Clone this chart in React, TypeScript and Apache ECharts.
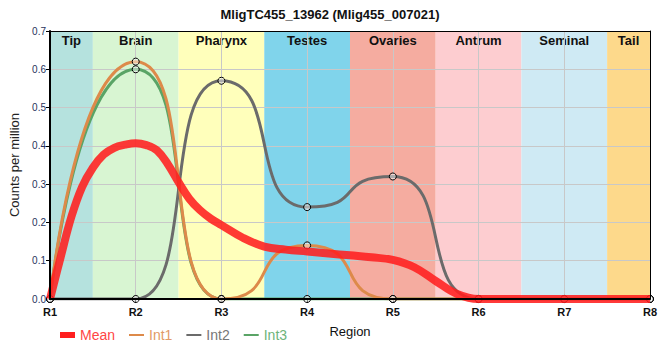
import React, { useEffect, useRef } from 'react';
import * as echarts from 'echarts';

const titleText = 'MligTC455_13962 (Mlig455_007021)';
const xLabels = ['R1', 'R2', 'R3', 'R4', 'R5', 'R6', 'R7', 'R8'];
const xPositions = [1, 2, 3, 4, 5, 6, 7, 8];
const int1 = [0, 0.62, 0, 0.14, 0, 0, 0, 0];
const int2 = [0, 0, 0.57, 0.24, 0.32, 0, 0, 0];
const int3 = [0, 0.6, 0, 0, 0, 0, 0, 0];
const meanX = [1, 1.125, 1.25, 1.375, 1.5, 1.625, 1.75, 1.875, 2, 2.125, 2.25, 2.375, 2.5, 2.625, 2.75, 2.875, 3, 3.25, 3.5, 3.75, 4, 4.25, 4.5, 4.75, 5, 5.25, 5.5, 5.75, 6, 7, 8];
const meanY = [0, 0.11, 0.215, 0.293, 0.343, 0.377, 0.395, 0.403, 0.407, 0.402, 0.388, 0.352, 0.305, 0.262, 0.232, 0.21, 0.193, 0.16, 0.137, 0.129, 0.124, 0.119, 0.114, 0.109, 0.102, 0.083, 0.047, 0.013, 0, 0, 0];

const regionNames = ['Tip', 'Brain', 'Pharynx', 'Testes', 'Ovaries', 'Antrum', 'Seminal', 'Tail'];
const regionFrom = [1, 1.5, 2.5, 3.5, 4.5, 5.5, 6.5, 7.5];
const regionTo = [1.5, 2.5, 3.5, 4.5, 5.5, 6.5, 7.5, 8];
const regionColors = ['#b5e2de', '#d8f5d2', '#ffffbb', '#80d4eb', '#f5aca0', '#fdcdd0', '#cfeaf4', '#fdd98b'];

const seriesNames = ['Mean', 'Int1', 'Int2', 'Int3'];
const seriesColors = ['#ff1f1f', '#dd8a4a', '#6b6b6b', '#5aa466'];
const legendTextColors = ['#ff4545', '#e29a66', '#777777', '#6db47a'];
const seriesZ = [8, 7, 6, 5];

const FONT = 'Liberation Sans, Arial, sans-serif';
const lineIcon = 'path://M0,0M0,6M0,2L15,2L15,4L0,4Z';

const frameAxis = (position: string, width: number, min: number, max: number) => ({
  type: 'value',
  min,
  max,
  position,
  z: 10,
  axisLine: { show: true, onZero: false, lineStyle: { color: '#000', width } },
  axisTick: { show: false },
  axisLabel: { show: false },
  splitLine: { show: false },
});

export default function App() {
  const ref = useRef<HTMLDivElement>(null);
  useEffect(() => {
    const chart = echarts.init(ref.current!, null, { renderer: 'svg' });
    const intSets = [int1, int2, int3];
    const markerStyle = { color: 'rgba(255,255,255,0.45)', borderColor: '#000', borderWidth: 1 };
    const intSeries = intSets.map((vals, i) => ({
      name: seriesNames[i + 1],
      type: 'line',
      z: seriesZ[i + 1],
      data: vals.map((v, k) => [xPositions[k], v]),
      smooth: 0.7,
      smoothMonotone: 'x',
      symbol: 'circle',
      symbolSize: 7,
      itemStyle: markerStyle,
      lineStyle: { color: seriesColors[i + 1], width: 3 },
      emphasis: { disabled: true },
    }));
    const option: any = {
      animation: false,
      title: {
        text: titleText,
        left: 'center',
        top: 3,
        textStyle: { fontSize: 13, fontWeight: 'bold', color: '#111', fontFamily: FONT },
      },
      grid: { left: 50, right: 10, top: 31, bottom: 61 },
      legend: {
        left: 55,
        top: 323,
        itemWidth: 15,
        itemHeight: 6,
        itemGap: 14,
        textStyle: { fontSize: 14, fontFamily: FONT },
        data: seriesNames.map((n, i) => ({
          name: n,
          icon: i === 0 ? 'rect' : lineIcon,
          itemStyle: { color: seriesColors[i], borderWidth: 0 },
          textStyle: { color: legendTextColors[i] },
        })),
      },
      xAxis: [
        {
          type: 'value',
          min: 1,
          max: 8,
          interval: 1,
          position: 'bottom',
          z: 3,
          name: 'Region',
          nameLocation: 'middle',
          nameGap: 26,
          nameTextStyle: { fontSize: 13, color: '#111', fontFamily: FONT },
          axisLine: { show: false },
          axisTick: { show: true, length: 4, lineStyle: { color: '#000' } },
          axisLabel: {
            formatter: (v: number) => xLabels[Math.round(v) - 1],
            color: '#111',
            fontWeight: 'bold',
            fontSize: 11,
            margin: 7,
            fontFamily: FONT,
          },
          splitLine: { show: true, lineStyle: { color: '#c8c8c8', width: 1 } },
        },
        frameAxis('bottom', 2, 1, 8),
        frameAxis('top', 1, 1, 8),
      ],
      yAxis: [
        {
          type: 'value',
          min: 0,
          max: 0.7,
          interval: 0.1,
          z: 3,
          name: 'Counts per million',
          nameLocation: 'middle',
          nameGap: 28,
          nameTextStyle: { fontSize: 13, color: '#222', fontFamily: FONT },
          axisLine: { show: false },
          axisTick: { show: true, length: 4, lineStyle: { color: '#000' } },
          axisLabel: {
            formatter: (v: number) => v.toFixed(1),
            color: '#27335c',
            fontSize: 10,
            margin: 4,
            fontFamily: FONT,
          },
          splitLine: { show: true, lineStyle: { color: '#c8c8c8', width: 1 } },
        },
        frameAxis('left', 2, 0, 0.7),
        frameAxis('right', 1, 0, 0.7),
      ],
      series: [
        {
          name: 'Mean',
          type: 'line',
          z: seriesZ[0],
          data: meanX.map((x, k) => [x, meanY[k]]),
          smooth: 0.4,
          symbol: 'none',
          lineStyle: { color: seriesColors[0], width: 8, opacity: 0.88 },
          itemStyle: { color: seriesColors[0] },
          emphasis: { disabled: true },
          markArea: {
            z: 1,
            silent: true,
            label: {
              show: true,
              position: 'insideTop',
              distance: 3,
              color: '#111',
              fontWeight: 'bold',
              fontSize: 13,
              fontFamily: FONT,
            },
            data: regionNames.map((n, i) => [
              { name: n, xAxis: regionFrom[i], itemStyle: { color: regionColors[i], opacity: 1 } },
              { xAxis: regionTo[i] },
            ]),
          },
        },
        ...intSeries,
      ],
    };
    chart.setOption(option);
    return () => chart.dispose();
  }, []);
  return <div ref={ref} style={{ position: 'absolute', left: 0, top: 0, width: 660, height: 360 }} />;
}
